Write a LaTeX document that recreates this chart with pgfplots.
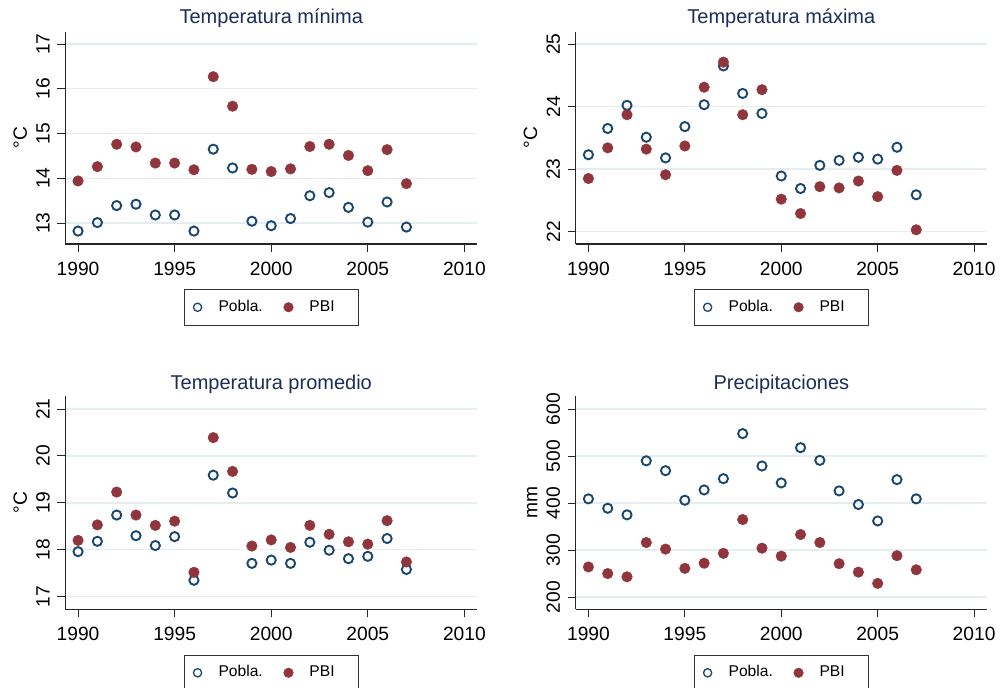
\documentclass[border=0pt]{standalone}
\usepackage{fontspec}
\setmainfont{Liberation Sans}
\usepackage{pgfplots}
\usepackage{pgfplotstable}
\pgfplotsset{compat=1.18}

\definecolor{stnavy}{RGB}{26,71,111}
\definecolor{stmaroon}{RGB}{144,53,59}
\definecolor{sttitle}{RGB}{30,45,90}
\definecolor{stgrid}{RGB}{228,238,240}

% year, poblacion-weighted, PBI-weighted
\pgfplotstableread{
year pob pbi
1990 12.82 13.94
1991 13.01 14.26
1992 13.39 14.76
1993 13.42 14.70
1994 13.18 14.34
1995 13.18 14.34
1996 12.82 14.19
1997 14.65 16.27
1998 14.23 15.61
1999 13.04 14.20
2000 12.94 14.15
2001 13.10 14.21
2002 13.61 14.71
2003 13.68 14.76
2004 13.35 14.51
2005 13.02 14.17
2006 13.47 14.64
2007 12.91 13.88
}\tmin

\pgfplotstableread{
year pob pbi
1990 23.23 22.85
1991 23.65 23.34
1992 24.02 23.87
1993 23.51 23.32
1994 23.18 22.91
1995 23.68 23.37
1996 24.03 24.31
1997 24.65 24.71
1998 24.21 23.87
1999 23.89 24.27
2000 22.89 22.52
2001 22.69 22.29
2002 23.06 22.72
2003 23.14 22.70
2004 23.19 22.81
2005 23.16 22.56
2006 23.35 22.98
2007 22.59 22.03
}\tmax

\pgfplotstableread{
year pob pbi
1990 17.96 18.20
1991 18.18 18.53
1992 18.74 19.23
1993 18.30 18.74
1994 18.09 18.52
1995 18.28 18.61
1996 17.35 17.52
1997 19.59 20.39
1998 19.21 19.67
1999 17.71 18.08
2000 17.78 18.21
2001 17.71 18.05
2002 18.16 18.52
2003 17.99 18.33
2004 17.81 18.17
2005 17.86 18.12
2006 18.24 18.62
2007 17.58 17.74
}\tprom

\pgfplotstableread{
year pob pbi
1990 409 264
1991 389 250
1992 375 243
1993 490 316
1994 469 302
1995 406 261
1996 428 272
1997 452 293
1998 548 365
1999 479 304
2000 443 287
2001 518 333
2002 491 316
2003 426 271
2004 397 253
2005 362 229
2006 450 288
2007 409 258
}\prec

\pgfplotsset{
  panel/.style={
    scale only axis,
    xmin=1989.34, xmax=2010.67,
    xtick={1990,1995,...,2010},
    axis x line*=bottom, axis y line*=left,
    axis line style={-, line width=0.6pt, black!85},
    tick align=outside, major tick length=4pt,
    tick style={black!85, line width=0.5pt},
    minor tick num=0,
    ymajorgrids, grid style={stgrid, line width=0.7pt},
    /pgf/number format/assume math mode=true,
    /pgf/number format/1000 sep={},
    tick label style={font=\fontsize{9.6}{11}\selectfont},
    xticklabel style={anchor=north, inner sep=0pt},
    xticklabel shift=4.6pt,
    yticklabel style={rotate=90, anchor=south, inner sep=0pt},
    yticklabel shift=3.6pt,
    every axis y label/.style={at={(axis description cs:-0.0935,0.5)},
      rotate=90, anchor=base, font=\fontsize{9.6}{11}\selectfont},
    title style={at={(0.5,1)}, anchor=base,
      font=\fontsize{10}{12}\selectfont, text=sttitle},
    legend style={at={(0.5,-0.212)}, anchor=north, draw=black!80,
      line width=0.5pt, font=\fontsize{7.8}{9}\selectfont,
      legend columns=2, inner xsep=2.5pt, inner ysep=5.3pt,
      nodes={inner sep=0pt},
      /tikz/every odd column/.append style={column sep=6.5pt},
      /tikz/every even column/.append style={column sep=8.85pt}},
    legend image code/.code={
      \draw[##1] plot coordinates {(4pt,0pt)};
      \path[draw=none, fill=none] (0pt,-2.5pt) rectangle (8pt,2.5pt);},
  },
  pob/.style={only marks, mark=o, mark size=2.3pt, color=stnavy,
    mark options={line width=0.95pt},
    legend image post style={mark size=2.05pt, mark options={line width=0.65pt}}},
  pbi/.style={only marks, mark=*, mark size=2.65pt, color=stmaroon,
    mark options={line width=0.2pt},
    legend image post style={mark size=2.4pt}},
}

\begin{document}
\begin{tikzpicture}
\path[use as bounding box, fill=white] (0,0) rectangle (500pt,-343.5pt);

\begin{axis}[panel, at={(32.65pt,-122pt)}, anchor=south west,
  width=206pt, height=106.15pt,
  ymin=12.531, ymax=17.275, ytick={13,...,17},
  title={Temperatura mínima}, title style={yshift=-1.8pt},
  ylabel={°C}]
  \addplot[pob] table[x=year, y=pob] {\tmin};
  \addplot[pbi] table[x=year, y=pbi] {\tmin};
  \addlegendentry{Pobla.}
  \addlegendentry{PBI\hspace*{9.2pt}}
\end{axis}

\begin{axis}[panel, at={(287.85pt,-122pt)}, anchor=south west,
  width=205.65pt, height=106.15pt,
  ymin=21.803, ymax=25.197, ytick={22,...,25},
  title={Temperatura máxima}, title style={yshift=-1.8pt},
  ylabel={°C}]
  \addplot[pob] table[x=year, y=pob] {\tmax};
  \addplot[pbi] table[x=year, y=pbi] {\tmax};
  \addlegendentry{Pobla.}
  \addlegendentry{PBI\hspace*{9.2pt}}
\end{axis}

\begin{axis}[panel, at={(32.65pt,-304.65pt)}, anchor=south west,
  width=206pt, height=106.65pt,
  ymin=16.731, ymax=21.277, ytick={17,...,21},
  title={Temperatura promedio}, title style={yshift=-2.65pt},
  ylabel={°C}]
  \addplot[pob] table[x=year, y=pob] {\tprom};
  \addplot[pbi] table[x=year, y=pbi] {\tprom};
  \addlegendentry{Pobla.}
  \addlegendentry{PBI\hspace*{9.2pt}}
\end{axis}

\begin{axis}[panel, at={(287.85pt,-304.65pt)}, anchor=south west,
  width=205.65pt, height=106.65pt,
  ymin=173.8, ymax=628, ytick={200,300,...,600},
  title={Precipitaciones}, title style={yshift=-2.65pt},
  ylabel={mm}]
  \addplot[pob] table[x=year, y=pob] {\prec};
  \addplot[pbi] table[x=year, y=pbi] {\prec};
  \addlegendentry{Pobla.}
  \addlegendentry{PBI\hspace*{9.2pt}}
\end{axis}
\end{tikzpicture}
\end{document}
